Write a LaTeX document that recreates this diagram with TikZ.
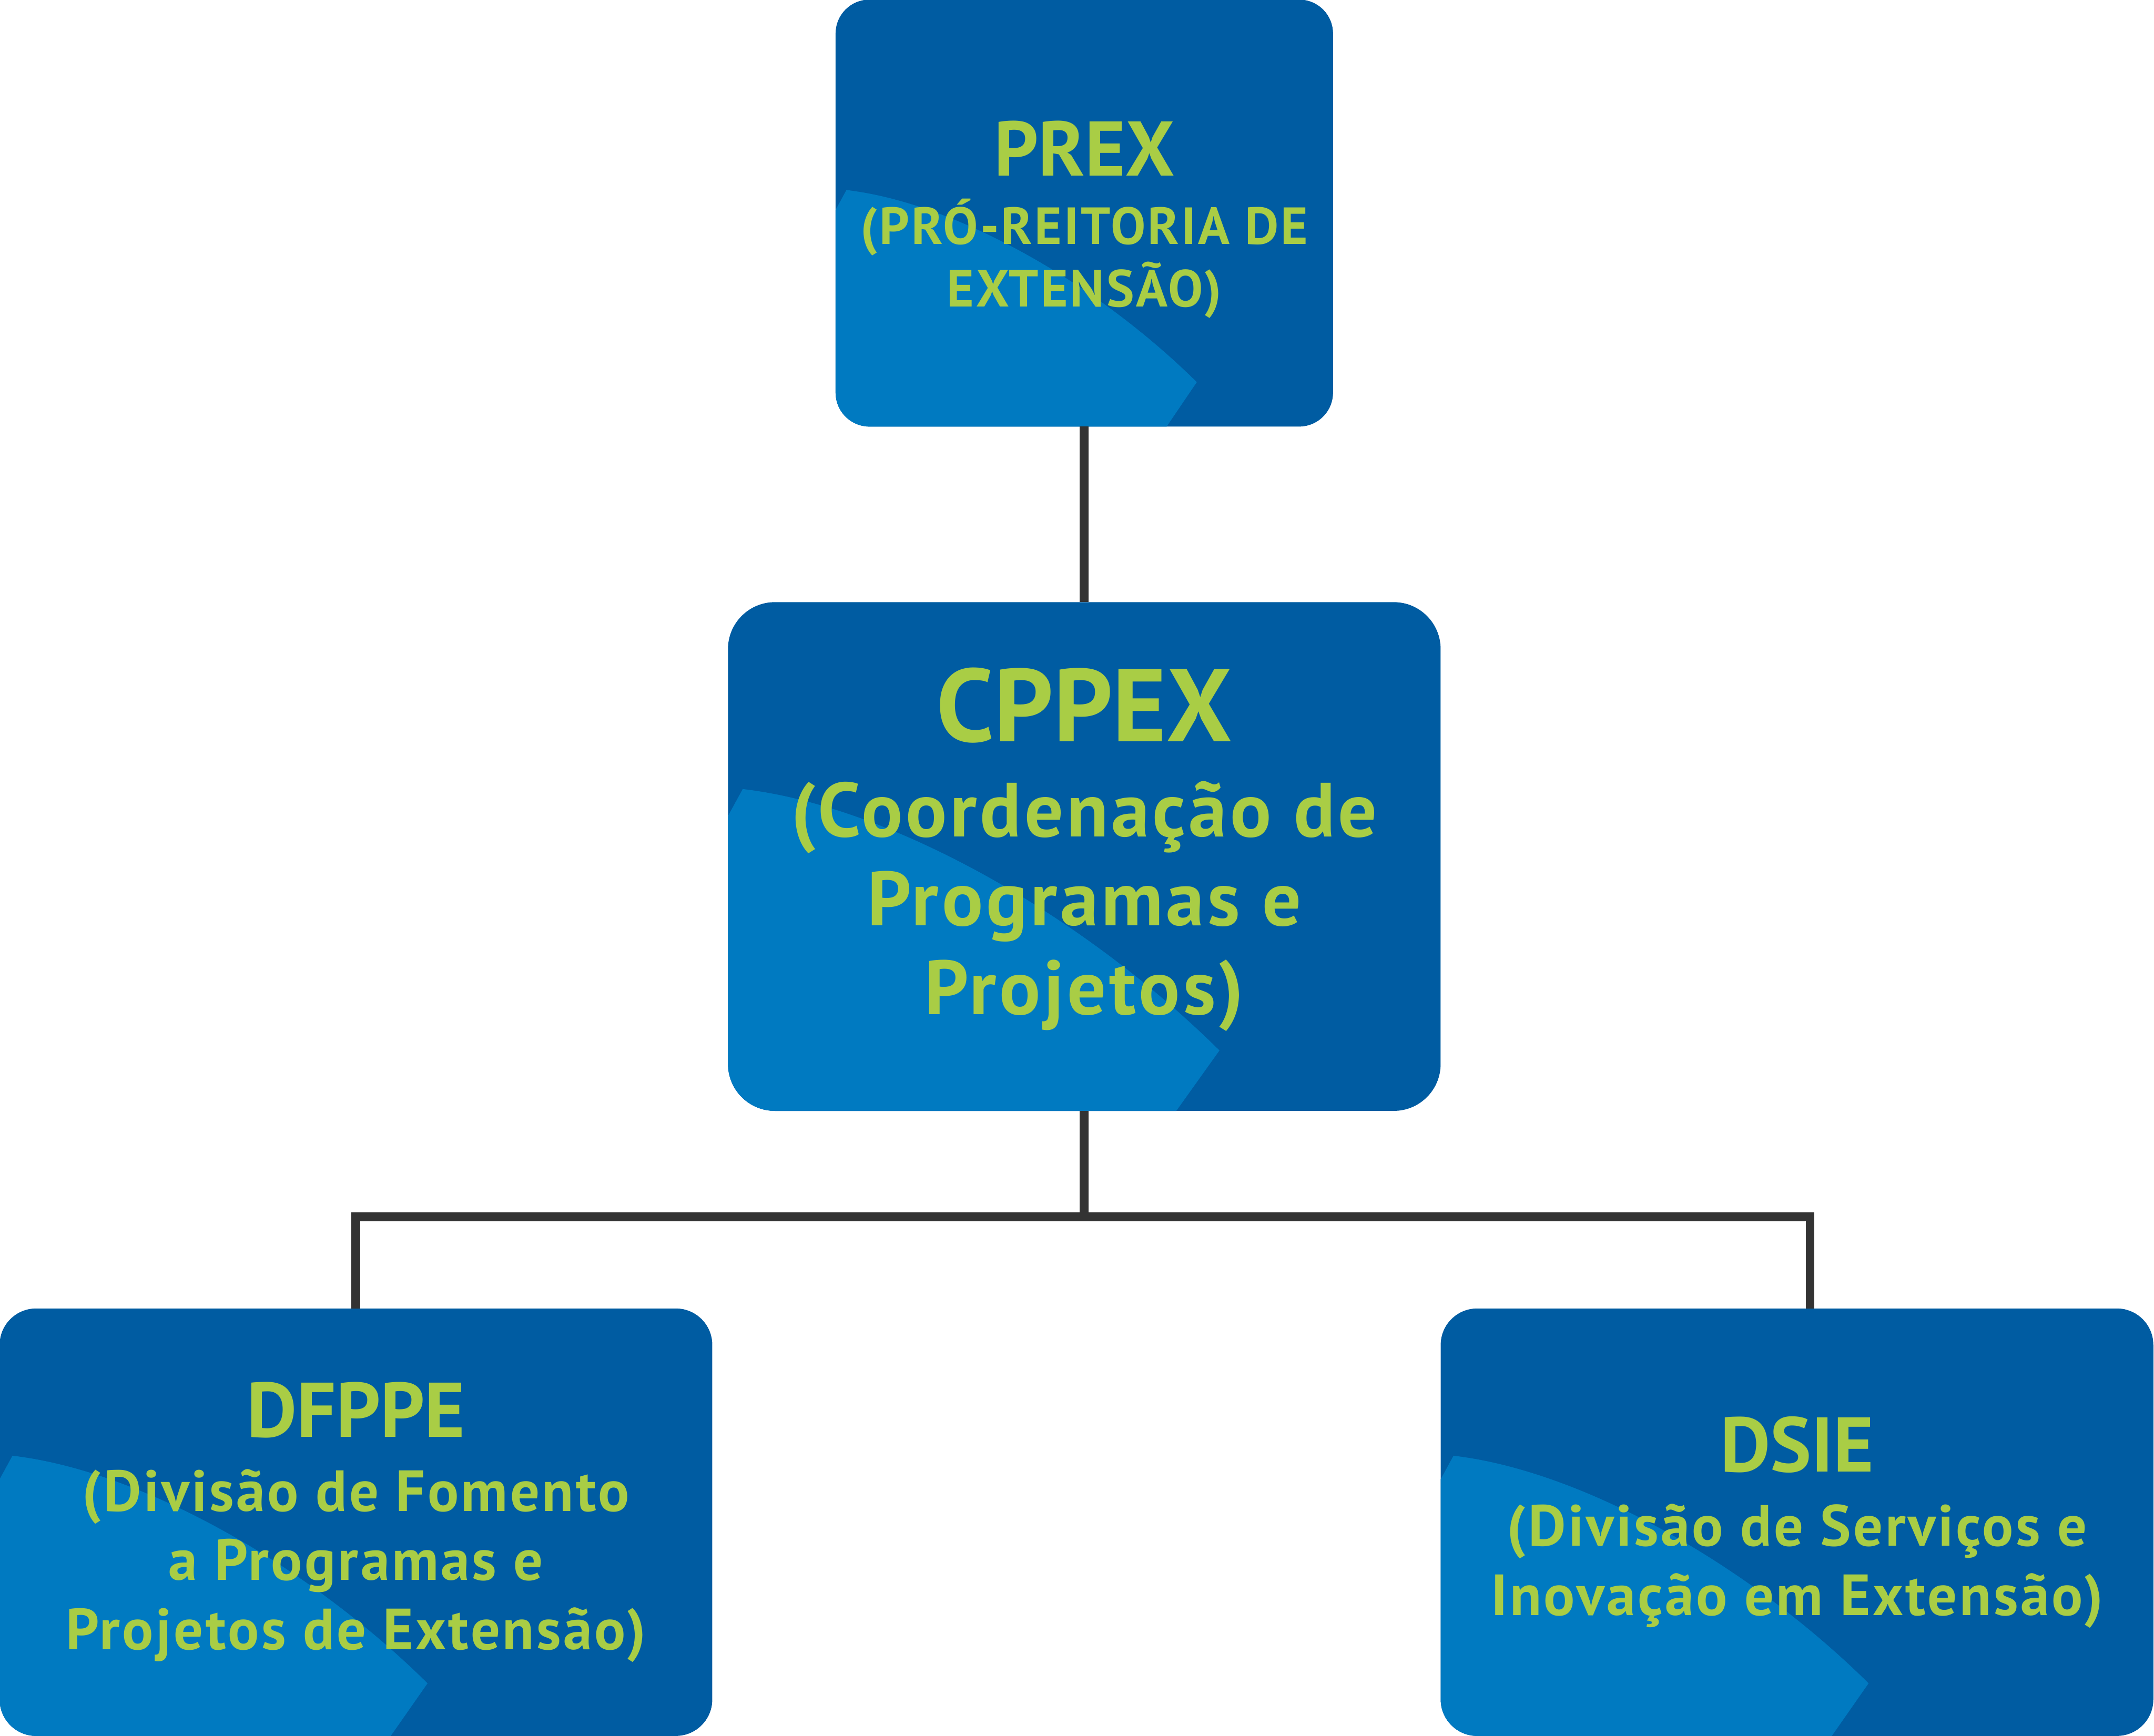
\documentclass[tikz,border=0pt]{standalone}
\usepackage{fontspec}
\setmainfont{PT Sans}
\newfontfamily\subfamily{PT Sans}[LetterSpace=4.0]
\usetikzlibrary{positioning,backgrounds}

\definecolor{boxblue}{HTML}{005CA2}
\definecolor{wedgeblue}{HTML}{007AC1}
\definecolor{labelgreen}{HTML}{A9CD45}
\definecolor{linkgray}{HTML}{333333}

% box fill with the lighter swoosh in its lower left part
\newcommand{\boxdrop}[3]{%
  \fill[boxblue, rounded corners=#2] (#1.south west) rectangle (#1.north east);
  \begin{scope}
    \clip[rounded corners=#2] (#1.south west) rectangle (#1.north east);
    \fill[wedgeblue, shift={(#1.south west)}]
      (-0.2,0.60*#3) -- (0,0.60*#3) -- (0.03*#3,0.655*#3)
      .. controls (0.33*#3,0.62*#3) and (0.72*#3,0.40*#3) .. (#3,0.123*#3)
      -- (0.897*#3,-0.2) -- (-0.2,-0.2) -- cycle;
  \end{scope}}

\begin{document}
\begin{tikzpicture}[
orgbox/.style={align=center, inner sep=0pt, text=labelgreen},
link/.style={draw=linkgray, line width=0.17cm}
]
\useasboundingbox (0,0) rectangle (41.33,33.31);

\node[orgbox, minimum width=9.53cm, minimum height=8.18cm,
  font=\subfamily\bfseries\fontsize{28.5}{34.1}\selectfont] (prex) at (20.805,29.22)
  {\rule{0pt}{1.3cm}{\normalfont\bfseries\fontsize{42.3}{50}\selectfont PREX}\\[0.11cm](PRÓ-REITORIA DE\\EXTENSÃO)};
\node[orgbox, minimum width=13.66cm, minimum height=9.75cm,
  font=\subfamily\bfseries\fontsize{41.9}{48.4}\selectfont, below=3.37cm of prex] (cppex)
  {{\normalfont\bfseries\fontsize{56.5}{66}\selectfont CPPEX}\\[0.13cm](Coordenação de\\Programas e\\Projetos)\rule[-0.6cm]{0pt}{0pt}};
\node[orgbox, minimum width=13.66cm, minimum height=8.19cm,
  font=\subfamily\bfseries\fontsize{31.7}{37.8}\selectfont] (dfppe) at (6.83,4.095)
  {{\normalfont\bfseries\fontsize{42.3}{50}\selectfont DFPPE}\\[0.09cm](Divisão de Fomento\\a Programas e\\Projetos de Extensão)};
\node[orgbox, minimum width=13.66cm, minimum height=8.19cm,
  font=\subfamily\bfseries\fontsize{31.7}{37.8}\selectfont] (dsie) at (34.48,4.095)
  {{\normalfont\bfseries\fontsize{42.3}{50}\selectfont DSIE}\\[0.10cm](Divisão de Serviços e\\Inovação em Extensão)};

\begin{scope}[on background layer]
\boxdrop{prex}{0.65cm}{6.93}
\boxdrop{cppex}{0.9cm}{9.43}
\boxdrop{dfppe}{0.7cm}{8.21}
\boxdrop{dsie}{0.7cm}{8.21}
\end{scope}

\draw[link] (prex) -- (cppex);
\draw[link] (cppex.south) -- ++(0,-2.03) -| (dfppe.north);
\draw[link] (cppex.south) -- ++(0,-2.03) -| ([xshift=0.25cm]dsie.north);
\end{tikzpicture}
\end{document}
